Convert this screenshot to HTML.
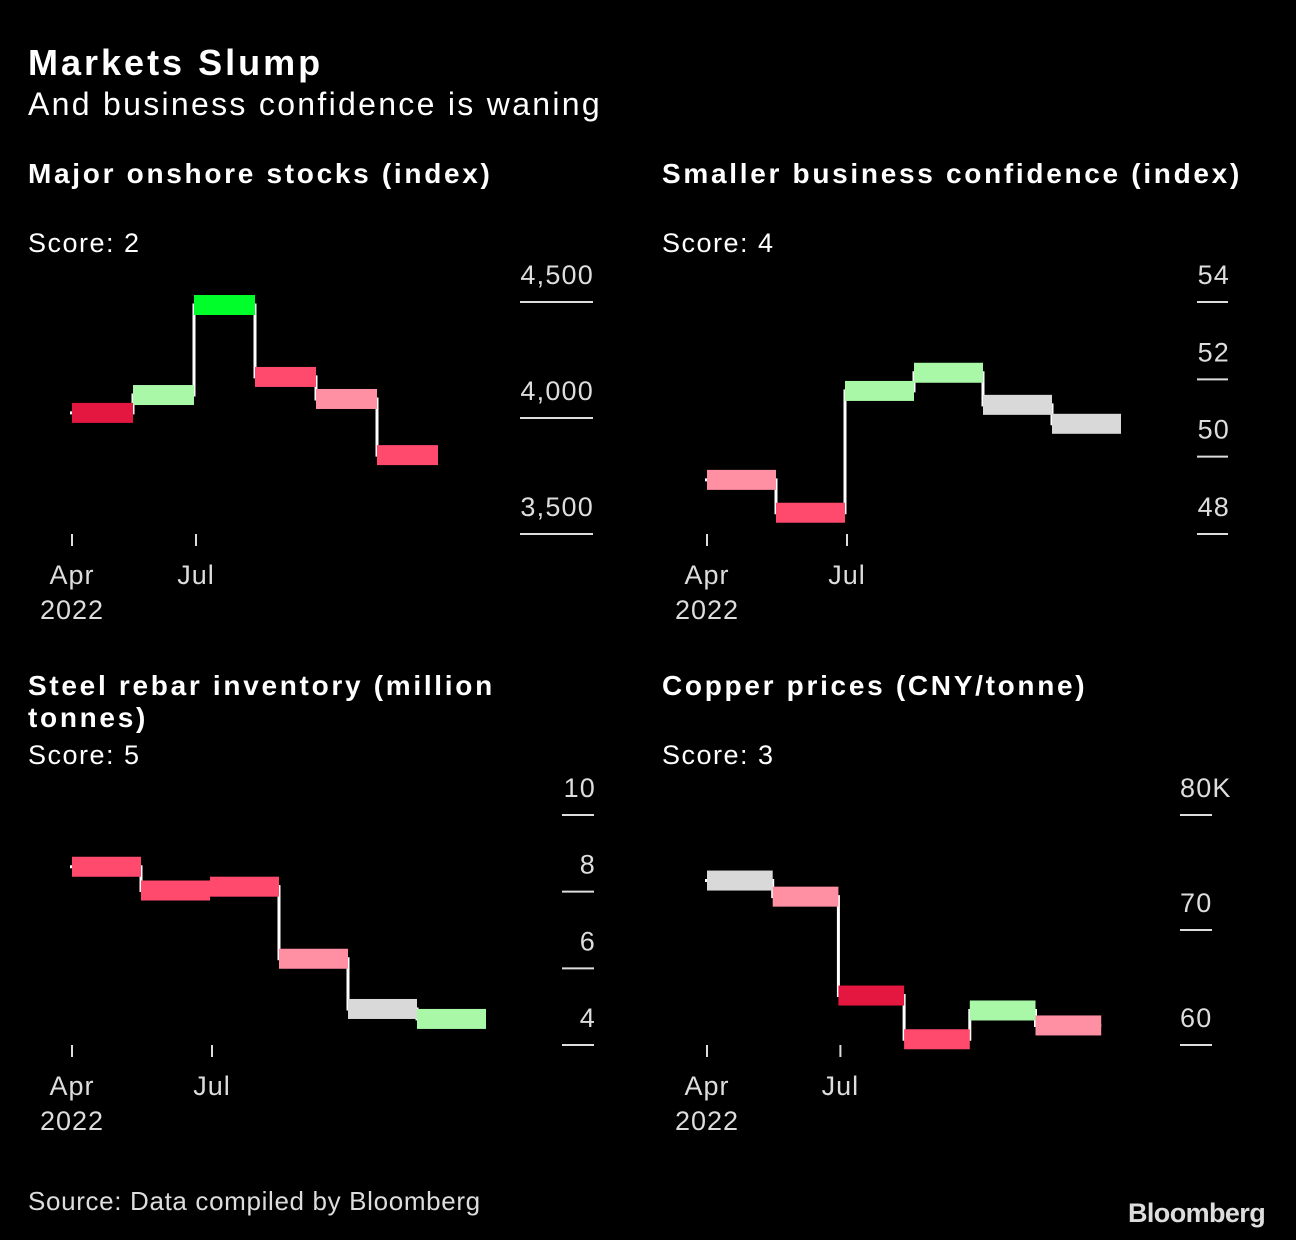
<!DOCTYPE html>
<html><head><meta charset="utf-8">
<style>
body{margin:0;background:#000;width:1296px;height:1240px;overflow:hidden;font-family:"Liberation Sans","DejaVu Sans",sans-serif;color:#fff;position:relative}
.t{position:absolute;white-space:nowrap}
</style></head><body>
<div class="t" style="left:28px;top:42px;font-size:36px;font-weight:bold;letter-spacing:3px">Markets Slump</div>
<div class="t" style="left:28px;top:86px;font-size:32px;letter-spacing:2.3px">And business confidence is waning</div>
<div class="t" style="left:28px;top:158px;font-size:28px;font-weight:bold;letter-spacing:2.7px">Major onshore stocks (index)</div>
<div class="t" style="left:662px;top:158px;font-size:28px;font-weight:bold;letter-spacing:2.7px">Smaller business confidence (index)</div>
<div class="t" style="left:28px;top:670px;font-size:28px;font-weight:bold;letter-spacing:2.7px;line-height:32px">Steel rebar inventory (million<br>tonnes)</div>
<div class="t" style="left:662px;top:670px;font-size:28px;font-weight:bold;letter-spacing:2.7px">Copper prices (CNY/tonne)</div>
<div class="t" style="left:28px;top:228px;font-size:27px;letter-spacing:1.5px">Score: 2</div>
<div class="t" style="left:662px;top:228px;font-size:27px;letter-spacing:1.5px">Score: 4</div>
<div class="t" style="left:28px;top:740px;font-size:27px;letter-spacing:1.5px">Score: 5</div>
<div class="t" style="left:662px;top:740px;font-size:27px;letter-spacing:1.5px">Score: 3</div>
<div class="t" style="left:28px;top:1186px;font-size:26px;color:#ddd;letter-spacing:0.65px">Source: Data compiled by Bloomberg</div>
<div class="t" style="left:1128px;top:1198px;font-size:27px;font-weight:bold;color:#ddd;letter-spacing:-0.6px">Bloomberg</div>
<svg id="svg" width="1296" height="1240" style="position:absolute;left:0;top:0"></svg>
<script>
const c1Values=[4022,4099,4487,4177,4082,3840];
const c1Colors=["#e3173f","#a8f8a8","#00ff2a","#ff4a6e","#ff8fa3","#ff4a6e"];
const c1Ticks=[3500,4000,4500];
const c1TickLabels=["3,500","4,000","4,500"];
const c2Values=[49.4,48.55,51.7,52.17,51.34,50.85];
const c2Colors=["#ff8fa3","#ff4a6e","#a8f8a8","#a8f8a8","#d9d9d9","#d9d9d9"];
const c2Ticks=[48,50,52,54];
const c2TickLabels=["48","50","52","54"];
const c3Values=[8.65,8.03,8.13,6.25,4.94,4.68];
const c3Colors=["#ff4a6e","#ff4a6e","#ff4a6e","#ff8fa3","#d9d9d9","#a8f8a8"];
const c3Ticks=[4,6,8,10];
const c3TickLabels=["4","6","8","10"];
const c4Values=[74.3,72.9,64.3,60.5,63.0,61.7];
const c4Colors=["#d9d9d9","#ff8fa3","#e3173f","#ff4a6e","#a8f8a8","#ff8fa3"];
const c4Ticks=[60,70,80];
const c4TickLabels=["60","70","80K"];
const xTickIdx=[0,2];
const xTickLabels=["Apr","Jul"];
const svg=document.getElementById('svg');
const NS="http://www.w3.org/2000/svg";
function mk(tag,attrs){const e=document.createElementNS(NS,tag);for(const k in attrs)e.setAttribute(k,attrs[k]);svg.appendChild(e);return e;}
function chart(id,vals,cols,ticks,tl,x0,segW,yMin,yMax,yTop,yBot,axX1,axX2,labelX,anchor){
  const ys=v=>yBot-(v-yMin)/(yMax-yMin)*(yBot-yTop);
  const xs=i=>x0+i*segW;
  ticks.forEach((t,i)=>{
    const l=mk('line',{x1:axX1,x2:axX2,y1:ys(t),y2:ys(t),stroke:'#ddd','stroke-width':2});
    
    
    const tx=mk('text',{x:labelX,y:ys(t)-18,fill:'#ddd','font-size':27,'letter-spacing':'1.2','text-anchor':anchor,'font-family':'Liberation Sans, sans-serif'});
    tx.textContent=tl[i];
    
    
  });
  xTickIdx.forEach((ti,i)=>{
    const x=xs(ti)+(i?2:0);
    const l=mk('line',{x1:x,x2:x,y1:yBot,y2:yBot+12,stroke:'#ddd','stroke-width':2});
    
    
    const tx=mk('text',{x:x,y:yBot+50,fill:'#ddd','font-size':27,'letter-spacing':'1','text-anchor':'middle','font-family':'Liberation Sans, sans-serif'});
    tx.textContent=xTickLabels[i];
    
    
  });
  const yr=mk('text',{x:xs(0),y:yBot+85,fill:'#ddd','font-size':27,'letter-spacing':'1','text-anchor':'middle','font-family':'Liberation Sans, sans-serif'});
  yr.textContent="2022";
  
  
  let d='M'+(xs(0)-2)+' '+ys(vals[0]);
  vals.forEach((v,i)=>{d+=' L'+xs(i)+' '+ys(v)+' L'+xs(i+1)+' '+ys(v);});
  const p=mk('path',{d:d,fill:'none',stroke:'#fff','stroke-width':3});
  
  
  vals.forEach((v,i)=>{
    const r=mk('rect',{x:xs(i),y:ys(v)-10,width:segW,height:20,fill:cols[i]});
    
    
  });
}
chart('chart1',c1Values,c1Colors,c1Ticks,c1TickLabels,72,61,3500,4500,302,534,520,593,594,'end');
chart('chart2',c2Values,c2Colors,c2Ticks,c2TickLabels,707,69,48,54,302,534,1197,1228,1230,'end');
chart('chart3',c3Values,c3Colors,c3Ticks,c3TickLabels,72,69,4,10,815,1045,562,594,596,'end');
chart('chart4',c4Values,c4Colors,c4Ticks,c4TickLabels,707,65.7,60,80,815,1045,1180,1212,1180,'start');
</script>
</body></html>
